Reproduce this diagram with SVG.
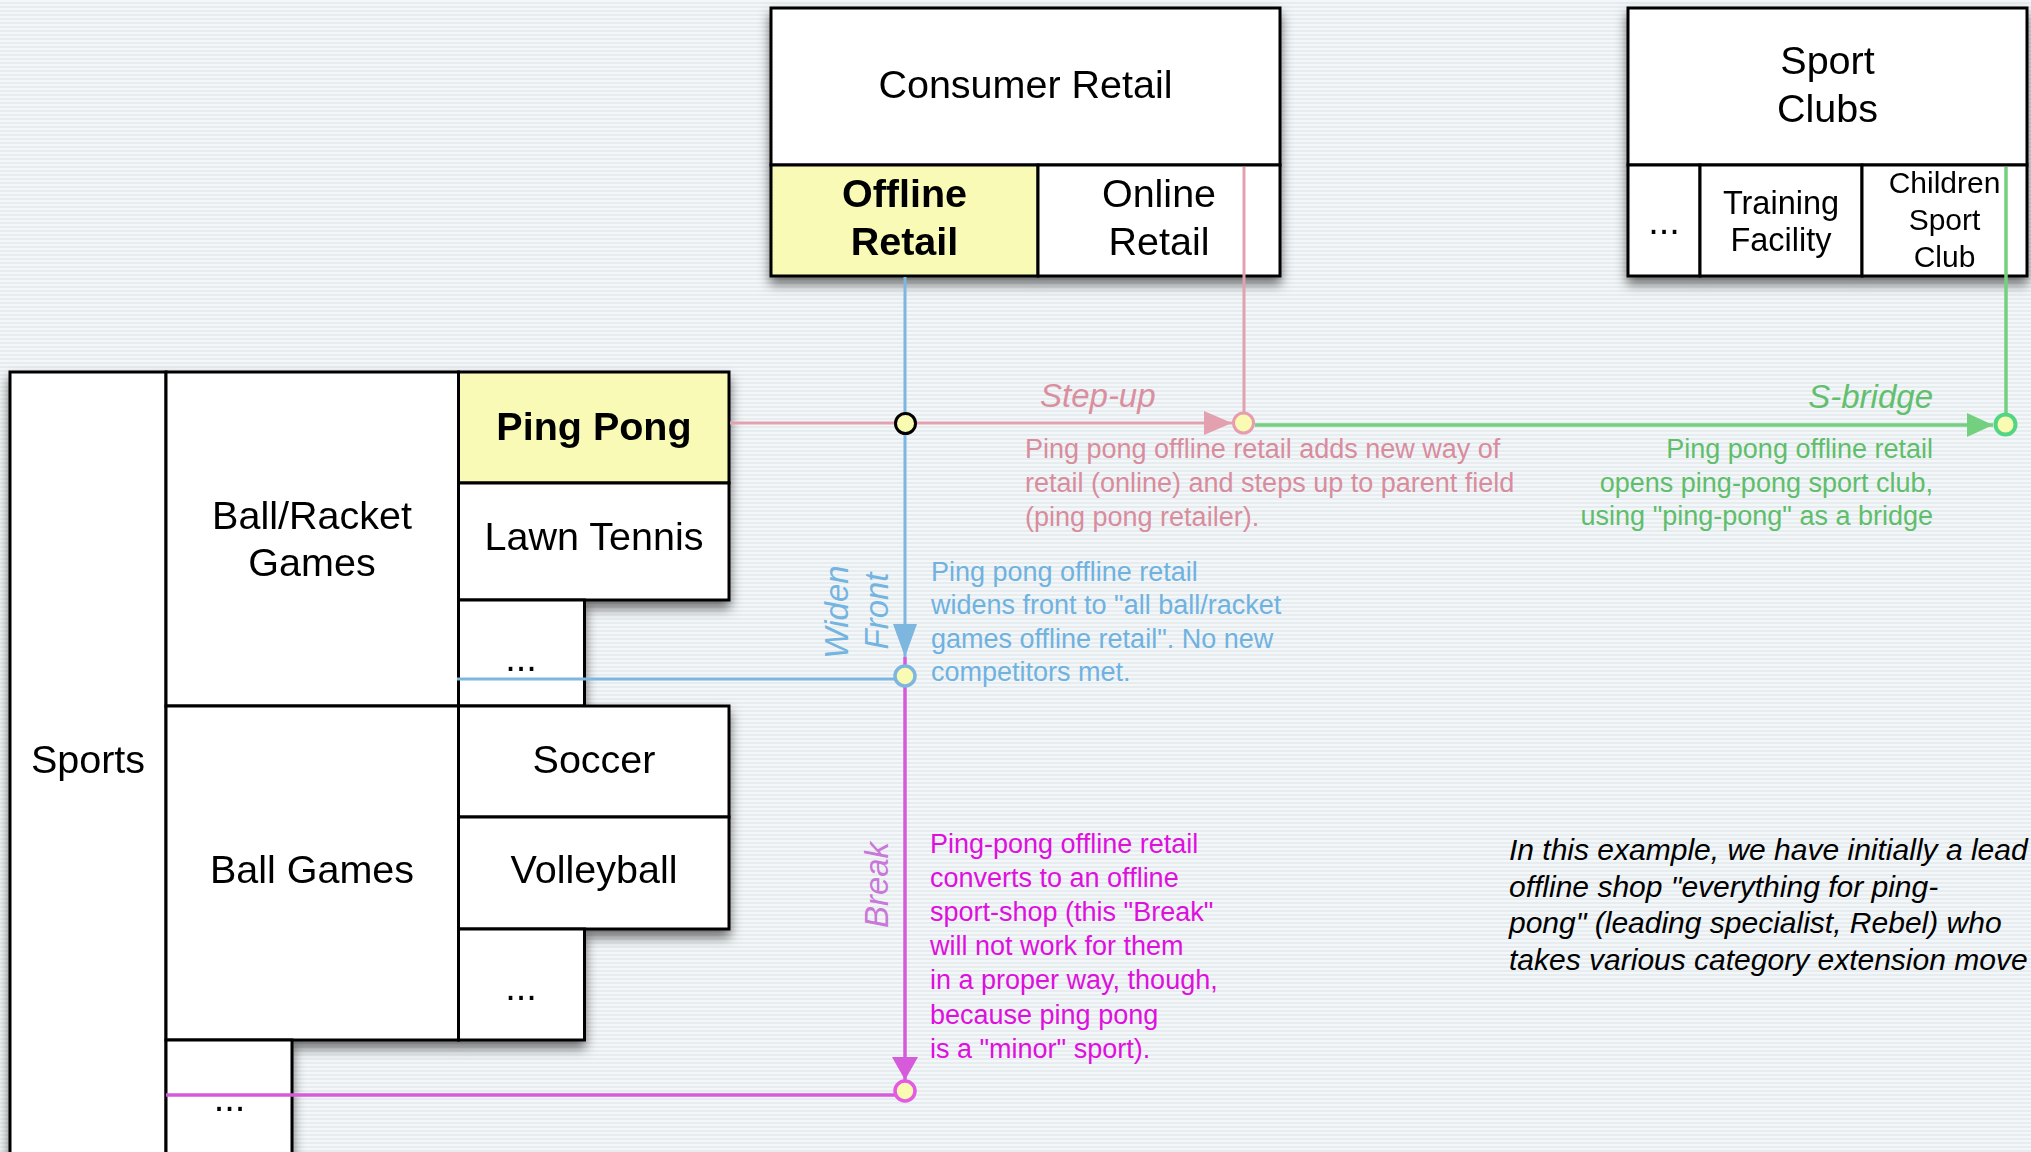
<svg xmlns="http://www.w3.org/2000/svg" width="2031" height="1152" viewBox="0 0 2031 1152">
  <defs>
    <pattern id="stripes" x="0" y="0" width="8" height="4" patternUnits="userSpaceOnUse">
      <rect x="0" y="0" width="8" height="2" fill="#F4F7F9"/>
      <rect x="0" y="2" width="8" height="2" fill="#E7ECEF"/>
    </pattern>
    <filter id="shadow" x="-10%" y="-10%" width="120%" height="130%">
      <feDropShadow dx="0" dy="7" stdDeviation="6" flood-color="#000" flood-opacity="0.55"/>
    </filter>
    <marker id="arPink" markerUnits="userSpaceOnUse" markerWidth="30" markerHeight="26" refX="28" refY="12" orient="auto">
      <path d="M0,0 L28,12 L0,24 z" fill="#E3A1B0"/>
    </marker>
    <marker id="arGreen" markerUnits="userSpaceOnUse" markerWidth="30" markerHeight="26" refX="26" refY="12" orient="auto">
      <path d="M0,0 L26,12 L0,24 z" fill="#72D07F"/>
    </marker>
    <marker id="arBlue" markerUnits="userSpaceOnUse" markerWidth="36" markerHeight="26" refX="33" refY="12" orient="auto">
      <path d="M0,0 L33,12 L0,24 z" fill="#7DB6DE"/>
    </marker>
    <marker id="arMag" markerUnits="userSpaceOnUse" markerWidth="26" markerHeight="28" refX="23" refY="13" orient="auto">
      <path d="M0,0 L23,13 L0,26 z" fill="#D65BDA"/>
    </marker>
  </defs>
  <style>
    .cell { fill: #FFFFFF; stroke: #000; stroke-width: 3; }
    .hl { fill: #F8FAB6; stroke: #000; stroke-width: 3; }
    .t { font-family: "Liberation Sans", Arial, Helvetica, sans-serif; font-size: 39.5px; fill: #000; text-anchor: middle; }
    .b { font-weight: bold; }
    .s32 { font-size: 32.5px; }
    .s30 { font-size: 30px; }
    .dots { font-size: 38px; }
    .lab { font-family: "Liberation Sans", Arial, Helvetica, sans-serif; font-size: 33px; font-style: italic; }
    .desc { font-family: "Liberation Sans", Arial, Helvetica, sans-serif; font-size: 27px; }
    .note { font-family: "Liberation Sans", Arial, Helvetica, sans-serif; font-size: 30px; font-style: italic; fill: #000; }
    .ln { fill: none; }
    .pk { stroke: #E3A1B0; stroke-width: 3; }
    .gr { stroke: #72D07F; stroke-width: 3.5; }
    .bl { stroke: #7DB6DE; stroke-width: 3; }
    .mg { stroke: #D65BDA; stroke-width: 3.5; }
    .dot { fill: #FAFBB2; }
  </style>

  <rect x="0" y="0" width="2031" height="1152" fill="url(#stripes)"/>

  <!-- Consumer Retail -->
  <g filter="url(#shadow)">
    <g id="consumer-retail">
      <rect class="cell" x="771" y="8" width="509" height="157"/>
      <text class="t" x="1025.5" y="98">Consumer Retail</text>
    </g>
    <g id="offline-retail">
      <rect class="hl" x="771" y="165" width="267" height="111"/>
      <text class="t b" x="904.5" y="207">Offline</text>
      <text class="t b" x="904.5" y="255">Retail</text>
    </g>
    <g id="online-retail">
      <rect class="cell" x="1038" y="165" width="242" height="111"/>
      <text class="t" x="1159" y="207">Online</text>
      <text class="t" x="1159" y="255">Retail</text>
    </g>
  </g>

  <!-- Sport Clubs -->
  <g filter="url(#shadow)">
    <g id="sport-clubs">
      <rect class="cell" x="1628" y="8" width="399" height="157"/>
      <text class="t" x="1827.5" y="74">Sport</text>
      <text class="t" x="1827.5" y="122">Clubs</text>
    </g>
    <g id="clubs-more">
      <rect class="cell" x="1628" y="165" width="72" height="111"/>
      <text class="t dots" x="1664" y="234">...</text>
    </g>
    <g id="training-facility">
      <rect class="cell" x="1700" y="165" width="162" height="111"/>
      <text class="t s32" x="1781" y="214">Training</text>
      <text class="t s32" x="1781" y="251">Facility</text>
    </g>
    <g id="children-sport-club">
      <rect class="cell" x="1862" y="165" width="165" height="111"/>
      <text class="t s30" x="1944.5" y="193">Children</text>
      <text class="t s30" x="1944.5" y="230">Sport</text>
      <text class="t s30" x="1944.5" y="267">Club</text>
    </g>
  </g>

  <!-- Sports tree -->
  <g filter="url(#shadow)">
    <g id="sports">
      <rect class="cell" x="10" y="372" width="156" height="800"/>
      <text class="t" x="88" y="773">Sports</text>
    </g>
    <g id="ball-racket-games">
      <rect class="cell" x="166" y="372" width="292.5" height="334"/>
      <text class="t" x="312" y="529">Ball/Racket</text>
      <text class="t" x="312" y="576">Games</text>
    </g>
    <g id="ping-pong">
      <rect class="hl" x="458.5" y="372" width="270.5" height="111"/>
      <text class="t b" x="594" y="440">Ping Pong</text>
    </g>
    <g id="lawn-tennis">
      <rect class="cell" x="458.5" y="483" width="270.5" height="117"/>
      <text class="t" x="594" y="550">Lawn Tennis</text>
    </g>
    <g id="racket-more">
      <rect class="cell" x="458.5" y="600" width="126" height="106"/>
      <text class="t dots" x="521" y="671">...</text>
    </g>
    <g id="ball-games">
      <rect class="cell" x="166" y="706" width="292.5" height="334"/>
      <text class="t" x="312" y="883">Ball Games</text>
    </g>
    <g id="soccer">
      <rect class="cell" x="458.5" y="706" width="270.5" height="111"/>
      <text class="t" x="594" y="773">Soccer</text>
    </g>
    <g id="volleyball">
      <rect class="cell" x="458.5" y="817" width="270.5" height="112"/>
      <text class="t" x="594" y="883">Volleyball</text>
    </g>
    <g id="ball-more">
      <rect class="cell" x="458.5" y="929" width="126" height="111"/>
      <text class="t dots" x="521" y="1000">...</text>
    </g>
    <g id="sports-more">
      <rect class="cell" x="166" y="1040" width="126" height="132"/>
      <text class="t dots" x="229.5" y="1111">...</text>
    </g>
  </g>

  <!-- Connectors -->
  <g id="connectors">
    <path class="ln pk" d="M730 423 H1232" marker-end="url(#arPink)"/>
    <path class="ln pk" d="M1244 167 V412"/>
    <path class="ln gr" d="M1255 425 H1993" marker-end="url(#arGreen)"/>
    <path class="ln gr" d="M2006 167 V413"/>
    <path class="ln bl" d="M905 277 V657" marker-end="url(#arBlue)"/>
    <path class="ln bl" d="M457 679 H895"/>
    <path class="ln mg" d="M905 657 V1080" marker-end="url(#arMag)"/>
    <path class="ln mg" d="M166 1095 H895"/>

    <circle class="dot" cx="905.5" cy="423.5" r="10" stroke="#000" stroke-width="3"/>
    <circle class="dot" cx="1243.5" cy="423" r="10" stroke="#E79CAF" stroke-width="3"/>
    <circle class="dot" cx="2005.5" cy="424.5" r="10" stroke="#52D683" stroke-width="4"/>
    <circle class="dot" cx="905" cy="676" r="10" stroke="#7DB6DE" stroke-width="3.5"/>
    <circle class="dot" cx="905" cy="1091" r="10" stroke="#E35BE3" stroke-width="3.5"/>

    <text class="lab" x="1040" y="407" fill="#D98FA0">Step-up</text>
    <text class="desc" fill="#D88C9D"><tspan x="1025" y="458">Ping pong offline retail adds new way of</tspan><tspan x="1025" y="492">retail (online) and steps up to parent field</tspan><tspan x="1025" y="526">(ping pong retailer).</tspan></text>

    <text class="lab" x="1933" y="408" fill="#62BF6D" text-anchor="end">S-bridge</text>
    <text class="desc" fill="#5FBE6B" text-anchor="end"><tspan x="1933" y="458">Ping pong offline retail</tspan><tspan x="1933" y="492">opens ping-pong sport club,</tspan><tspan x="1933" y="525">using "ping-pong" as a bridge</tspan></text>

    <text class="lab" fill="#74B4E0" text-anchor="middle" transform="translate(848 612) rotate(-90)" x="0" y="0">Widen</text>
    <text class="lab" fill="#74B4E0" text-anchor="middle" transform="translate(888 611) rotate(-90)" x="0" y="0">Front</text>
    <text class="desc" fill="#6FB2E0"><tspan x="931" y="581">Ping pong offline retail</tspan><tspan x="931" y="614">widens front to "all ball/racket</tspan><tspan x="931" y="648">games offline retail". No new</tspan><tspan x="931" y="681">competitors met.</tspan></text>

    <text class="lab" fill="#C977D8" text-anchor="middle" transform="translate(888 885) rotate(-90)" x="0" y="0">Break</text>
    <text class="desc" fill="#DD10DD"><tspan x="930" y="853">Ping-pong offline retail</tspan><tspan x="930" y="887">converts to an offline</tspan><tspan x="930" y="921">sport-shop (this "Break"</tspan><tspan x="930" y="955">will not work for them</tspan><tspan x="930" y="989">in a proper way, though,</tspan><tspan x="930" y="1024">because ping pong</tspan><tspan x="930" y="1058">is a "minor" sport).</tspan></text>
  </g>

  <text class="note"><tspan x="1509" y="860">In this example, we have initially a lead</tspan><tspan x="1509" y="897">offline shop "everything for ping-</tspan><tspan x="1509" y="933">pong" (leading specialist, Rebel) who</tspan><tspan x="1509" y="970">takes various category extension move</tspan></text>
</svg>
